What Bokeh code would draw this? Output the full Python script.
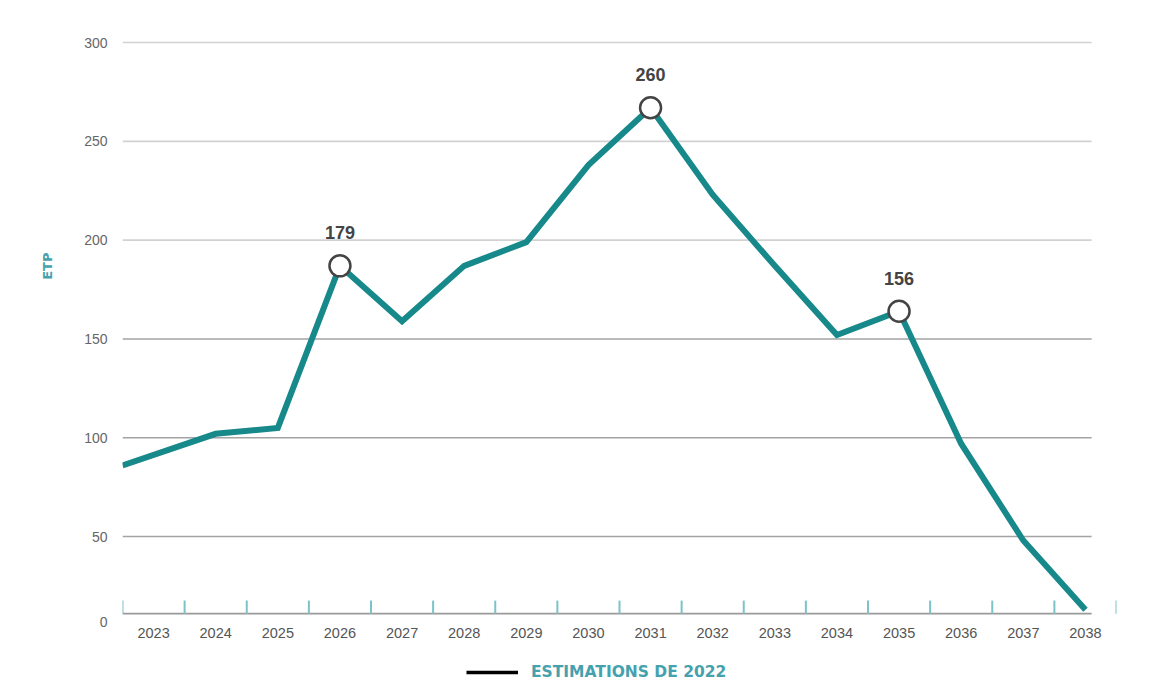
import numpy as np
from bokeh.plotting import figure
from bokeh.models import FixedTicker, Range1d, Legend, LegendItem, ColumnDataSource, Title
from bokeh.core.properties import value
from bokeh.embed import file_html
from bokeh.resources import INLINE

# ---- data ----
years = ["2023", "2024", "2025", "2026", "2027", "2028", "2029", "2030",
         "2031", "2032", "2033", "2034", "2035", "2036", "2037", "2038"]
etp = [86, 102, 105, 187, 159, 187, 199, 238, 267, 223, 187, 152, 164, 97, 48, 13]
highlight_idx = [3, 8, 12]
highlight_text = ["179", "260", "156"]
y_ticks = [50, 100, 150, 200, 250, 300]
grid_colors = ["#a3a3a3", "#a3a3a3", "#a3a3a3", "#d2d2d2", "#d2d2d2", "#d2d2d2"]
legend_label = "ESTIMATIONS DE 2022"
y_title = "ETP"

TEAL = "#17898a"
LIGHT_TEAL = "#7cc3c8"
TEXT_TEAL = "#46a1ae"

n = len(years)
x_start, x_end = 0, n
y_start, y_end = -27.9, 306.1

# layout levels (in y units) for the hand-drawn x axis below the data
axis_y = 11.0
tick_top = 17.6
label_y = 1.4
zero_y = 7.0

centers = [i + 0.5 for i in range(n)]
xs = list(centers)
xs[0] = x_start  # first value drawn at the left edge, as in the original

p = figure(width=1158, height=690, output_backend="svg", toolbar_location=None,
           x_range=Range1d(x_start, x_end), y_range=Range1d(y_start, y_end),
           min_border_left=122, min_border_right=42, min_border_top=30, min_border_bottom=0)
p.outline_line_color = None
p.xgrid.visible = False
p.ygrid.visible = False
p.xaxis.visible = False

# gridlines
grid_end = 15.6
p.segment(x0=[x_start] * len(y_ticks), x1=[grid_end] * len(y_ticks), y0=y_ticks, y1=y_ticks,
          line_color=grid_colors, line_width=1.6)
# x axis base line and teal ticks at the category boundaries
p.segment(x0=[x_start], x1=[grid_end], y0=[axis_y], y1=[axis_y], line_color="#9a9a9a", line_width=1.6)
bounds = list(range(n + 1))
p.segment(x0=bounds, x1=bounds, y0=[axis_y] * len(bounds), y1=[tick_top] * len(bounds),
          line_color=LIGHT_TEAL, line_width=2)
# x labels
p.text(x=centers, y=[label_y] * n, text=years, text_align="center", text_baseline="middle",
       text_font=value("Liberation Sans"), text_font_size="14.5px", text_color="#555555")

# main line
src = ColumnDataSource(dict(x=xs, y=etp))
p.line("x", "y", source=src, line_color=TEAL, line_width=6, line_join="miter")

# highlighted points
hx = [xs[i] for i in highlight_idx]
hy = [etp[i] for i in highlight_idx]
p.scatter(hx, hy, size=21, fill_color="white", line_color="#444444", line_width=2.5)
p.text(x=hx, y=hy, text=highlight_text, text_align="center", text_baseline="middle",
       y_offset=-33, text_font=value("Liberation Sans"), text_font_style="bold",
       text_font_size="18px", text_color="#444444")

# y axis
p.yaxis.ticker = FixedTicker(ticks=[zero_y] + y_ticks)
p.yaxis.major_label_overrides = {zero_y: "0"}
p.yaxis.axis_line_color = None
p.yaxis.major_tick_line_color = None
p.yaxis.minor_tick_line_color = None
p.yaxis.major_label_standoff = 9
p.yaxis.major_label_text_font = "Liberation Sans"
p.yaxis.major_label_text_font_size = "14px"
p.yaxis.major_label_text_color = "#666666"

# y axis title, placed higher than the frame centre as in the original
p.add_layout(Title(text=y_title, align="right", offset=222, standoff=54,
                   text_font="DejaVu Sans", text_font_style="bold",
                   text_font_size="13px", text_color=TEXT_TEAL), "left")

# legend with black sample line (no points of its own in the plot)
dummy = p.line(x=[np.nan, np.nan], y=[np.nan, np.nan], line_color="black", line_width=3.5)
legend = Legend(items=[LegendItem(label=legend_label, renderers=[dummy])],
                location=(344, 8), orientation="horizontal",
                glyph_width=52, glyph_height=20, label_standoff=13,
                label_text_font="DejaVu Sans", label_text_font_style="bold",
                label_text_font_size="15.5px", label_text_color=TEXT_TEAL,
                border_line_color=None, background_fill_color=None, padding=0, margin=0)
p.add_layout(legend)

open("out.html", "w").write(file_html(p, INLINE))
